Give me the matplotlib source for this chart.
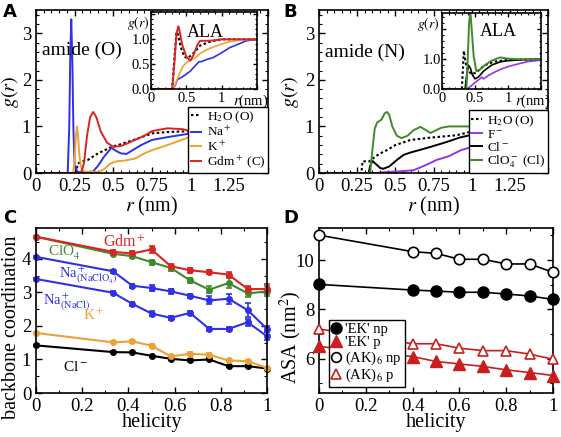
import matplotlib
matplotlib.use("Agg")
import matplotlib.pyplot as plt
from matplotlib.ticker import MultipleLocator, FuncFormatter
from matplotlib.lines import Line2D

plt.rcParams['font.family'] = ['Liberation Serif', 'DejaVu Serif']
plt.rcParams['mathtext.fontset'] = 'stix'

# ---------------- Panel A: amide (O) ----------------
rA_h2o = [0, 0.26, 0.27, 0.30, 0.335, 0.40, 0.49, 0.55, 0.65, 0.75, 0.85, 1.0, 1.15, 1.3, 1.5]
gA_h2o = [0, 0, 0.2, 0.25, 0.28, 0.42, 0.56, 0.62, 0.73, 0.85, 0.88, 0.9, 0.95, 0.98, 1.0]
rA_na = [0, 0.205, 0.215, 0.222, 0.228, 0.235, 0.242, 0.25, 0.27, 0.36, 0.40, 0.44, 0.487,
         0.52, 0.55, 0.585, 0.63, 0.68, 0.75, 0.85, 1.0, 1.2, 1.5]
gA_na = [0, 0, 1.0, 2.6, 3.3, 2.4, 0.9, 0.15, 0.02, 0.0, 0.15, 0.35, 0.54,
         0.47, 0.42, 0.41, 0.5, 0.6, 0.71, 0.77, 0.85, 0.95, 1.0]
rA_k = [0, 0.24, 0.25, 0.258, 0.265, 0.272, 0.28, 0.29, 0.31, 0.40, 0.44, 0.48, 0.52,
        0.58, 0.64, 0.70, 0.75, 0.85, 1.0, 1.2, 1.5]
gA_k = [0, 0, 0.3, 0.8, 1.0, 0.8, 0.4, 0.15, 0.03, 0.02, 0.08, 0.2, 0.25,
        0.27, 0.31, 0.42, 0.49, 0.6, 0.78, 0.92, 1.0]
rA_gdm = [0, 0.29, 0.31, 0.33, 0.35, 0.37, 0.39, 0.42, 0.46, 0.50, 0.55, 0.60, 0.70,
          0.75, 0.85, 0.95, 1.0, 1.2, 1.5]
gA_gdm = [0, 0, 0.2, 0.8, 1.2, 1.31, 1.2, 0.88, 0.65, 0.56, 0.58, 0.65, 0.8,
          0.9, 0.96, 0.94, 0.9, 0.97, 1.0]

# inset A (ALA)
rAi_h2o = [0, 0.30, 0.33, 0.36, 0.38, 0.42, 0.47, 0.52, 0.6, 0.7, 0.85, 1.0, 1.5]
gAi_h2o = [0, 0, 0.6, 1.15, 1.1, 0.85, 0.65, 0.62, 0.72, 0.88, 0.96, 1.0, 1.0]
rAi_na = [0, 0.32, 0.376, 0.45, 0.50, 0.557, 0.60, 0.64, 0.68, 0.71, 0.80, 0.876, 1.0, 1.11, 1.35, 1.5]
gAi_na = [0, 0, 0.19, 0.25, 0.3, 0.36, 0.43, 0.49, 0.55, 0.55, 0.6, 0.63, 0.73, 0.83, 0.97, 1.0]
rAi_k = [0, 0.32, 0.36, 0.40, 0.45, 0.50, 0.55, 0.62, 0.70, 0.80, 0.95, 1.1, 1.3, 1.5]
gAi_k = [0, 0, 0.15, 0.3, 0.45, 0.53, 0.58, 0.62, 0.72, 0.8, 0.88, 0.95, 0.99, 1.0]
rAi_gdm = [0, 0.30, 0.33, 0.36, 0.386, 0.40, 0.44, 0.50, 0.557, 0.60, 0.66, 0.695, 0.80, 0.90, 1.0, 1.5]
gAi_gdm = [0, 0, 0.5, 1.1, 1.26, 1.2, 0.9, 0.65, 0.57, 0.68, 0.9, 0.97, 0.97, 0.98, 1.0, 1.0]

# ---------------- Panel B: amide (N) ----------------
rB_h2o = [0, 0.278, 0.285, 0.33, 0.36, 0.40, 0.445, 0.50, 0.60, 0.73, 0.80, 0.90, 1.0, 1.2, 1.5]
gB_h2o = [0, 0, 0.25, 0.25, 0.33, 0.42, 0.49, 0.6, 0.71, 0.76, 0.78, 0.81, 0.89, 0.97, 1.0]
rB_f = [0, 0.36, 0.45, 0.55, 0.62, 0.70, 0.77, 0.85, 0.93, 1.0, 1.1, 1.2, 1.3, 1.5]
gB_f = [0, 0, 0.02, 0.04, 0.06, 0.17, 0.28, 0.36, 0.49, 0.56, 0.7, 0.82, 0.92, 1.0]
rB_cl = [0, 0.325, 0.335, 0.35, 0.37, 0.40, 0.42, 0.46, 0.51, 0.555, 0.60, 0.73, 0.84, 0.92, 1.0, 1.2, 1.5]
gB_cl = [0, 0, 0.15, 0.26, 0.2, 0.11, 0.09, 0.14, 0.28, 0.39, 0.44, 0.56, 0.67, 0.76, 0.82, 0.95, 1.0]
rB_clo4 = [0, 0.335, 0.35, 0.365, 0.38, 0.41, 0.43, 0.445, 0.46, 0.48, 0.51, 0.54, 0.58, 0.62,
           0.665, 0.70, 0.73, 0.80, 0.85, 1.0, 1.2, 1.5]
gB_clo4 = [0, 0, 0.5, 0.95, 1.08, 1.15, 1.28, 1.31, 1.25, 1.0, 0.8, 0.75, 0.8, 0.92,
           0.99, 0.92, 0.86, 0.97, 1.0, 1.0, 1.0, 1.0]

# inset B (ALA)
rBi_h2o = [0, 0.30, 0.315, 0.33, 0.35, 0.37, 0.40, 0.45, 0.52, 0.60, 0.70, 0.80, 0.90, 1.0, 1.5]
gBi_h2o = [0, 0, 0.6, 1.28, 1.0, 0.75, 0.6, 0.5, 0.55, 0.72, 0.85, 0.92, 0.95, 0.98, 1.0]
rBi_f = [0, 0.38, 0.45, 0.52, 0.58, 0.60, 0.63, 0.70, 0.80, 0.90, 1.0, 1.15, 1.3, 1.5]
gBi_f = [0, 0, 0.12, 0.25, 0.35, 0.4, 0.34, 0.45, 0.57, 0.67, 0.75, 0.84, 0.92, 0.97]
rBi_cl = [0, 0.35, 0.37, 0.40, 0.43, 0.46, 0.50, 0.55, 0.63, 0.75, 0.88, 1.0, 1.2, 1.5]
gBi_cl = [0, 0, 0.4, 0.8, 0.7, 0.48, 0.34, 0.4, 0.6, 0.8, 0.91, 0.95, 0.98, 1.0]
rBi_clo4 = [0, 0.37, 0.39, 0.41, 0.43, 0.45, 0.48, 0.52, 0.58, 0.65, 0.75, 0.88, 1.0, 1.14, 1.5]
gBi_clo4 = [0, 0, 1.0, 2.2, 2.6, 2.0, 1.1, 0.6, 0.66, 0.8, 0.95, 1.06, 1.02, 1.0, 1.0]

# ---------------- Panel C: backbone coordination ----------------
helicity_C = [0, 4/12, 5/12, 6/12, 7/12, 8/12, 9/12, 10/12, 11/12, 1.0]
coord_gdm = [4.66, 4.21, 4.16, 4.28, 3.78, 3.66, 3.60, 3.53, 3.10, 3.10]
err_gdm = [0.03, 0.06, 0.08, 0.10, 0.08, 0.08, 0.06, 0.08, 0.10, 0.15]
coord_clo4 = [4.66, 4.15, 4.08, 3.90, 3.73, 3.36, 3.08, 3.28, 2.97, 3.03]
err_clo4 = [0.03, 0.05, 0.06, 0.08, 0.08, 0.08, 0.10, 0.15, 0.10, 0.15]
coord_na_naclo4 = [4.06, 3.63, 3.20, 3.13, 3.03, 2.90, 2.76, 2.81, 2.47, 1.91]
err_na_naclo4 = [0.03, 0.04, 0.06, 0.08, 0.08, 0.06, 0.12, 0.15, 0.20, 0.10]
coord_na_nacl = [3.40, 2.99, 2.66, 2.37, 2.24, 2.39, 1.91, 1.91, 2.11, 1.69]
err_na_nacl = [0.03, 0.04, 0.06, 0.08, 0.06, 0.06, 0.06, 0.06, 0.10, 0.12]
coord_k = [1.79, 1.51, 1.54, 1.41, 1.09, 1.17, 1.14, 0.97, 0.95, 0.75]
err_k = [0.03, 0.03, 0.04, 0.05, 0.04, 0.04, 0.04, 0.04, 0.04, 0.03]
coord_cl = [1.42, 1.22, 1.21, 1.11, 1.02, 0.97, 1.00, 0.80, 0.80, 0.73]
err_cl = [0.02, 0.02, 0.02, 0.03, 0.03, 0.03, 0.03, 0.03, 0.03, 0.03]

# ---------------- Panel D: ASA ----------------
helicity_D = [0, 0.4, 0.5, 0.6, 0.7, 0.8, 0.9, 1.0]
asa_ek_np = [9.01, 8.78, 8.74, 8.69, 8.69, 8.62, 8.54, 8.40]
asa_ek_p = [6.49, 6.08, 5.88, 5.78, 5.68, 5.54, 5.43, 5.31]
asa_ak_np = [11.01, 10.34, 10.27, 10.03, 10.03, 9.84, 9.84, 9.50]
asa_ak_p = [7.20, 6.60, 6.60, 6.42, 6.32, 6.32, 6.18, 5.97]

# colours
C_RED = '#dc2323'
C_BLUE = '#3030e6'
C_ORANGE = '#eea236'
C_GREEN = '#3f8a2a'
C_PURPLE = '#9535e8'
C_DRED = '#c81e1e'

TICK = 13.5
LAB = 14.5

fig = plt.figure(figsize=(5.61, 4.37), dpi=100)
W, H = 561.0, 437.0


def box(l, r, t, b):
    return [l / W, 1 - b / H, (r - l) / W, (b - t) / H]


def style(ax, fs=TICK, maj=4, mino=2):
    ax.tick_params(which='both', direction='in', top=True, right=True, labelsize=fs)
    ax.tick_params(which='major', length=maj, width=1.0)
    ax.tick_params(which='minor', length=mino, width=0.8)
    for s in ax.spines.values():
        s.set_linewidth(1.2)


def fmt_upto(lim, pat):
    return FuncFormatter(lambda v, p: (pat % v) if v < lim else '')


fmt_g = FuncFormatter(lambda v, p: '%g' % v)

leg_kw = dict(loc='lower right', bbox_to_anchor=(1, 0), borderaxespad=0, fontsize=9.5,
              handlelength=0.8, handletextpad=0.4, borderpad=0.2, labelspacing=0.0,
              fancybox=False, framealpha=1, edgecolor='black')

# ---- A main ----
axA = fig.add_axes(box(36, 268, 10, 173))
axA.plot(rA_h2o, gA_h2o, color='black', ls=(0, (1.2, 1.2)), lw=1.5, label=r'H$_2$O (O)')
axA.plot(rA_na, gA_na, color=C_BLUE, lw=1.4, label=r'Na$^+$')
axA.plot(rA_k, gA_k, color=C_ORANGE, lw=1.4, label=r'K$^+$')
axA.plot(rA_gdm, gA_gdm, color=C_RED, lw=1.4, label=r'Gdm$^+$ (C)')
axA.set_xlim(0, 1.5)
axA.set_ylim(0, 3.5)
axA.xaxis.set_major_locator(MultipleLocator(0.25))
axA.xaxis.set_minor_locator(MultipleLocator(0.05))
axA.yaxis.set_major_locator(MultipleLocator(1))
axA.yaxis.set_minor_locator(MultipleLocator(0.2))
axA.xaxis.set_major_formatter(fmt_upto(1.4, '%g'))
axA.yaxis.set_major_formatter(fmt_g)
style(axA)
axA.set_xlabel(r'$r$ (nm)', fontsize=LAB, labelpad=0)
axA.set_ylabel(r'$g(r)$', fontsize=LAB)
axA.yaxis.set_label_coords(-0.063, 0.5)
axA.text(0.026, 0.755, 'amide (O)', transform=axA.transAxes, fontsize=14, va='center')
legA = axA.legend(**leg_kw)
legA.get_frame().set_linewidth(1.0)

# ---- A inset ----
axAi = fig.add_axes(box(151, 257, 12, 89))
axAi.plot(rAi_h2o, gAi_h2o, color='black', ls=(0, (1.2, 1.2)), lw=1.5)
axAi.plot(rAi_na, gAi_na, color=C_BLUE, lw=1.2)
axAi.plot(rAi_k, gAi_k, color=C_ORANGE, lw=1.2)
axAi.plot(rAi_gdm, gAi_gdm, color=C_RED, lw=1.4)
axAi.set_xlim(0, 1.5)
axAi.set_ylim(0, 1.55)
axAi.xaxis.set_major_locator(MultipleLocator(0.5))
axAi.xaxis.set_minor_locator(MultipleLocator(0.1))
axAi.yaxis.set_major_locator(MultipleLocator(0.5))
axAi.yaxis.set_minor_locator(MultipleLocator(0.1))
axAi.xaxis.set_major_formatter(fmt_upto(1.4, '%g'))
axAi.yaxis.set_major_formatter(fmt_upto(1.2, '%.1f'))
style(axAi, fs=10.5, maj=3, mino=1.5)
axAi.tick_params(axis='x', pad=2)
axAi.tick_params(axis='y', pad=1)
axAi.text(0.77, -0.05, r'$r$(nm)', transform=axAi.transAxes, fontsize=10.5, va='top', ha='left')
axAi.text(-0.12, 0.86, r'$g(r)$', transform=axAi.transAxes, fontsize=10, ha='center', va='center')
axAi.text(0.51, 0.74, 'ALA', transform=axAi.transAxes, fontsize=13, ha='center', va='center')

# ---- B main ----
axB = fig.add_axes(box(319, 548, 10, 173))
axB.plot(rB_h2o, gB_h2o, color='black', ls=(0, (1.2, 1.2)), lw=1.5, label=r'H$_2$O (O)')
axB.plot(rB_f, gB_f, color=C_PURPLE, lw=1.4, label=r'F$^-$')
axB.plot(rB_cl, gB_cl, color='black', lw=1.4, label=r'Cl$^-$')
axB.plot(rB_clo4, gB_clo4, color=C_GREEN, lw=1.4, label=r'ClO$_4^-$ (Cl)')
axB.set_xlim(0, 1.5)
axB.set_ylim(0, 3.5)
axB.xaxis.set_major_locator(MultipleLocator(0.25))
axB.xaxis.set_minor_locator(MultipleLocator(0.05))
axB.yaxis.set_major_locator(MultipleLocator(1))
axB.yaxis.set_minor_locator(MultipleLocator(0.2))
axB.xaxis.set_major_formatter(fmt_upto(1.4, '%g'))
axB.yaxis.set_major_formatter(fmt_g)
style(axB)
axB.set_xlabel(r'$r$ (nm)', fontsize=LAB, labelpad=0)
axB.set_ylabel(r'$g(r)$', fontsize=LAB)
axB.yaxis.set_label_coords(-0.078, 0.5)
axB.text(0.026, 0.74, 'amide (N)', transform=axB.transAxes, fontsize=14, va='center')
legB = axB.legend(**leg_kw)
legB.get_frame().set_linewidth(1.0)

# ---- B inset ----
axBi = fig.add_axes(box(442, 541, 13, 89))
axBi.plot(rBi_h2o, gBi_h2o, color='black', ls=(0, (1.2, 1.2)), lw=1.5)
axBi.plot(rBi_f, gBi_f, color=C_PURPLE, lw=1.2)
axBi.plot(rBi_cl, gBi_cl, color='black', lw=1.2)
axBi.plot(rBi_clo4, gBi_clo4, color=C_GREEN, lw=1.4)
axBi.set_xlim(0, 1.5)
axBi.set_ylim(0, 2.55)
axBi.xaxis.set_major_locator(MultipleLocator(0.5))
axBi.xaxis.set_minor_locator(MultipleLocator(0.1))
axBi.yaxis.set_major_locator(MultipleLocator(1.0))
axBi.yaxis.set_minor_locator(MultipleLocator(0.2))
axBi.xaxis.set_major_formatter(fmt_upto(1.4, '%g'))
axBi.yaxis.set_major_formatter(fmt_upto(1.5, '%.1f'))
style(axBi, fs=10.5, maj=3, mino=1.5)
axBi.tick_params(axis='x', pad=2)
axBi.tick_params(axis='y', pad=1)
axBi.text(0.74, -0.05, r'$r$(nm)', transform=axBi.transAxes, fontsize=10.5, va='top', ha='left')
axBi.text(-0.14, 0.86, r'$g(r)$', transform=axBi.transAxes, fontsize=10, ha='center', va='center')
axBi.text(0.57, 0.75, 'ALA', transform=axBi.transAxes, fontsize=13, ha='center', va='center')

# ---- C ----
axC = fig.add_axes(box(36, 267, 228, 393))
series_C = [
    (coord_cl, err_cl, 'black'),
    (coord_k, err_k, C_ORANGE),
    (coord_na_nacl, err_na_nacl, C_BLUE),
    (coord_na_naclo4, err_na_naclo4, C_BLUE),
    (coord_clo4, err_clo4, C_GREEN),
    (coord_gdm, err_gdm, C_RED),
]
for yv, ev, c in series_C:
    axC.errorbar(helicity_C, yv, yerr=ev, color=c, lw=1.5, marker='o', ms=4,
                 capsize=2.5, elinewidth=1.2, capthick=1.2, clip_on=False)
axC.set_xlim(0, 1)
axC.set_ylim(0, 4.92)
axC.xaxis.set_major_locator(MultipleLocator(0.2))
axC.xaxis.set_minor_locator(MultipleLocator(0.1))
axC.yaxis.set_major_locator(MultipleLocator(1))
axC.yaxis.set_minor_locator(MultipleLocator(0.5))
axC.xaxis.set_major_formatter(fmt_g)
axC.yaxis.set_major_formatter(fmt_g)
style(axC)
axC.set_xlabel('helicity', fontsize=LAB, labelpad=-1)
axC.set_ylabel('backbone coordination', fontsize=LAB)
axC.yaxis.set_label_coords(-0.065, 0.40)
axC.text(0.385, 0.915, r'Gdm$^+$', transform=axC.transAxes, color=C_RED, fontsize=11.5, ha='center', va='center')
axC.text(0.05, 0.85, r'ClO$_4^-$', transform=axC.transAxes, color=C_GREEN, fontsize=11, va='center')
axC.text(0.10, 0.715, r'Na$^+_{(\mathrm{NaClO}_4)}$', transform=axC.transAxes, color=C_BLUE, fontsize=10.5, va='center')
axC.text(0.03, 0.55, r'Na$^+_{(\mathrm{NaCl})}$', transform=axC.transAxes, color=C_BLUE, fontsize=10.5, va='center')
axC.text(0.205, 0.47, r'K$^+$', transform=axC.transAxes, color=C_ORANGE, fontsize=11, va='center')
axC.text(0.117, 0.158, r'Cl$^-$', transform=axC.transAxes, color='black', fontsize=11, va='center')

# ---- D ----
axD = fig.add_axes(box(319, 553, 228, 393))
axD.plot(helicity_D, asa_ak_np, color='black', lw=1.2, marker='o', ms=7.5, mfc='white', mec='black', mew=1.2, clip_on=False, zorder=3)
axD.plot(helicity_D, asa_ek_np, color='black', lw=1.2, marker='o', ms=8, mfc='black', mec='black', clip_on=False, zorder=3)
axD.plot(helicity_D, asa_ak_p, color=C_DRED, lw=1.2, marker='^', ms=7.5, mfc='white', mec=C_DRED, mew=1.2, clip_on=False, zorder=3)
axD.plot(helicity_D, asa_ek_p, color=C_DRED, lw=1.2, marker='^', ms=8, mfc=C_DRED, mec=C_DRED, clip_on=False, zorder=3)
axD.set_xlim(0, 1)
axD.set_ylim(4.6, 11.3)
axD.xaxis.set_major_locator(MultipleLocator(0.2))
axD.xaxis.set_minor_locator(MultipleLocator(0.1))
axD.yaxis.set_major_locator(MultipleLocator(2))
axD.yaxis.set_minor_locator(MultipleLocator(1))
axD.xaxis.set_major_formatter(fmt_g)
axD.yaxis.set_major_formatter(fmt_g)
style(axD)
axD.set_xlabel('helicity', fontsize=LAB, labelpad=-1)
axD.set_ylabel(r'ASA (nm$^2$)', fontsize=LAB)
axD.yaxis.set_label_coords(-0.064, 0.34)
handlesD = [
    Line2D([], [], ls='none', marker='o', ms=8, mfc='black', mec='black'),
    Line2D([], [], ls='none', marker='^', ms=8, mfc=C_DRED, mec=C_DRED),
    Line2D([], [], ls='none', marker='o', ms=7, mfc='white', mec='black', mew=1.2),
    Line2D([], [], ls='none', marker='^', ms=7, mfc='white', mec=C_DRED, mew=1.2),
]
labelsD = ["'EK' np", "'EK' p", r'(AK)$_6$ np', r'(AK)$_6$ p']
legD = axD.legend(handles=handlesD, labels=labelsD, loc='lower left', bbox_to_anchor=(0.043, 0.036),
                  borderaxespad=0, fontsize=10.5, handlelength=0.6, handletextpad=0.3, borderpad=0.2,
                  labelspacing=0.0, fancybox=False, framealpha=1, edgecolor='black')
legD.get_frame().set_linewidth(1.0)

# panel letters
for lab, x, y in [('A', 3, 3), ('B', 283, 3), ('C', 3, 209), ('D', 283, 209)]:
    fig.text(x / W, 1 - y / H, lab, fontsize=13, fontweight='bold', family='DejaVu Sans', va='top', ha='left')

fig.savefig('out.png', dpi=100)
